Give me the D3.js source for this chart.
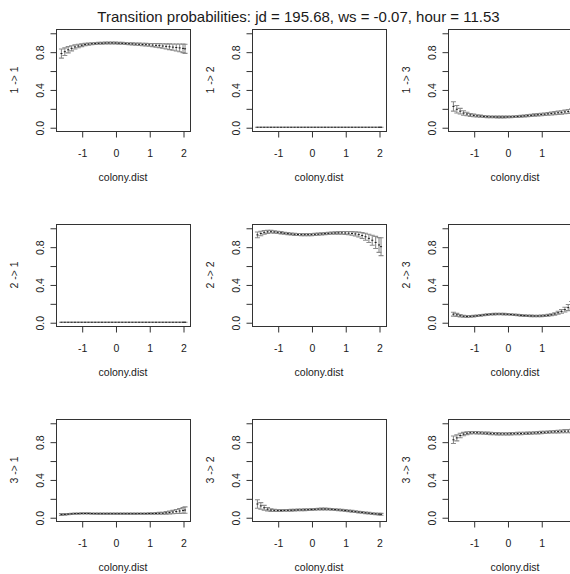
<!DOCTYPE html>
<html><head><meta charset="utf-8">
<script src="https://cdn.jsdelivr.net/npm/d3@7"></script>
<style>
body{margin:0;background:#fff}
svg{display:block}
text{font-family:"Liberation Sans",Arial,sans-serif;fill:#1a1a1a}
</style>
</head><body><svg id="chart" width="570" height="574"></svg>
<script>
const chartTitle = "Transition probabilities: jd = 195.68, ws = -0.07, hour = 11.53";
const xLabel = "colony.dist";
const xTicks = [-1, 0, 1, 2];
const yTicks = [0, 0.2, 0.4, 0.6, 0.8, 1.0];
const yTickLabels = [0, 0.4, 0.8];
const panelLabels = ["1 -> 1","1 -> 2","1 -> 3","2 -> 1","2 -> 2","2 -> 3","3 -> 1","3 -> 2","3 -> 3"];

const colonyDist = [-1.6,-1.5,-1.4,-1.3,-1.2,-1.1,-1.0,-0.9,-0.8,-0.7,
  -0.6,-0.5,-0.4,-0.3,-0.2,-0.1,0.0,0.1,0.2,0.3,
  0.4,0.5,0.6,0.7,0.8,0.9,1.0,1.1,1.2,1.3,
  1.4,1.5,1.6,1.7,1.8,1.9,2.0,2.06];

const p11 = [0.78,0.80,0.82,0.835,0.85,0.86,0.868,0.875,0.88,0.884,
  0.886,0.888,0.89,0.892,0.893,0.893,0.892,0.89,0.888,0.886,
  0.884,0.882,0.88,0.878,0.876,0.874,0.872,0.87,0.867,0.864,
  0.86,0.856,0.852,0.848,0.844,0.84,0.835,0.83];
const p11Err = [0.048,0.04,0.033,0.027,0.022,0.018,0.015,0.013,0.012,0.011,
  0.01,0.01,0.01,0.01,0.01,0.01,0.01,0.01,0.01,0.01,
  0.011,0.011,0.012,0.012,0.013,0.014,0.015,0.017,0.019,0.021,
  0.024,0.027,0.03,0.033,0.037,0.041,0.045,0.048];

const p12 = [0,0,0,0,0,0,0,0,0,0, 0,0,0,0,0,0,0,0,0,0, 0,0,0,0,0,0,0,0,0,0, 0,0,0,0,0,0,0,0];
const p12Err = [0,0,0,0,0,0,0,0,0,0, 0,0,0,0,0,0,0,0,0,0, 0,0,0,0,0,0,0,0,0,0, 0,0,0,0,0,0,0,0];

const p13 = [0.22,0.19,0.17,0.15,0.14,0.13,0.125,0.12,0.117,0.114,
  0.112,0.11,0.109,0.108,0.108,0.108,0.109,0.11,0.112,0.114,
  0.117,0.12,0.123,0.126,0.129,0.132,0.135,0.138,0.141,0.145,
  0.149,0.153,0.157,0.162,0.167,0.172,0.177,0.182];
const p13Err = [0.05,0.04,0.03,0.024,0.019,0.016,0.014,0.012,0.011,0.01,
  0.01,0.009,0.009,0.009,0.009,0.009,0.009,0.009,0.009,0.01,
  0.01,0.01,0.011,0.011,0.012,0.012,0.013,0.013,0.014,0.015,
  0.016,0.017,0.018,0.019,0.02,0.022,0.024,0.026];

const p21 = [0,0,0,0,0,0,0,0,0,0, 0,0,0,0,0,0,0,0,0,0, 0,0,0,0,0,0,0,0,0,0, 0,0,0,0,0,0,0,0];
const p21Err = [0,0,0,0,0,0,0,0,0,0, 0,0,0,0,0,0,0,0,0,0, 0,0,0,0,0,0,0,0,0,0, 0,0,0,0,0,0,0,0];

const p22 = [0.925,0.94,0.952,0.957,0.958,0.956,0.952,0.947,0.942,0.938,
  0.934,0.931,0.929,0.928,0.927,0.927,0.928,0.93,0.932,0.935,
  0.938,0.941,0.943,0.945,0.946,0.946,0.945,0.943,0.94,0.935,
  0.928,0.918,0.905,0.888,0.868,0.845,0.818,0.8];
const p22Err = [0.03,0.024,0.019,0.016,0.014,0.013,0.012,0.012,0.011,0.011,
  0.011,0.011,0.011,0.011,0.011,0.011,0.011,0.011,0.011,0.011,
  0.011,0.011,0.012,0.012,0.013,0.014,0.015,0.017,0.019,0.022,
  0.026,0.031,0.037,0.044,0.053,0.064,0.078,0.095];

const p23 = [0.085,0.078,0.068,0.063,0.061,0.062,0.064,0.068,0.072,0.077,
  0.081,0.084,0.086,0.087,0.087,0.086,0.084,0.082,0.079,0.076,
  0.073,0.07,0.068,0.067,0.066,0.066,0.067,0.069,0.073,0.079,
  0.088,0.1,0.115,0.133,0.155,0.18,0.21,0.23];
const p23Err = [0.02,0.016,0.013,0.011,0.01,0.009,0.009,0.008,0.008,0.008,
  0.008,0.008,0.008,0.008,0.008,0.008,0.008,0.008,0.008,0.008,
  0.008,0.008,0.008,0.008,0.008,0.008,0.009,0.009,0.01,0.011,
  0.013,0.016,0.02,0.025,0.032,0.04,0.05,0.058];

const p31 = [0.028,0.03,0.033,0.036,0.038,0.039,0.04,0.04,0.04,0.039,
  0.038,0.037,0.037,0.037,0.037,0.037,0.037,0.037,0.037,0.037,
  0.037,0.037,0.037,0.038,0.038,0.038,0.039,0.039,0.04,0.041,
  0.042,0.046,0.05,0.055,0.06,0.066,0.072,0.076];
const p31Err = [0.01,0.008,0.007,0.006,0.006,0.006,0.006,0.006,0.006,0.006,
  0.006,0.006,0.006,0.006,0.006,0.006,0.006,0.006,0.006,0.006,
  0.006,0.006,0.006,0.006,0.006,0.007,0.007,0.008,0.009,0.01,
  0.011,0.013,0.015,0.018,0.021,0.025,0.03,0.034];

const p32 = [0.14,0.12,0.1,0.085,0.076,0.072,0.071,0.071,0.072,0.073,
  0.074,0.076,0.077,0.078,0.079,0.08,0.082,0.084,0.086,0.087,
  0.087,0.086,0.084,0.081,0.078,0.075,0.071,0.067,0.063,0.059,
  0.055,0.051,0.047,0.043,0.039,0.036,0.033,0.031];
const p32Err = [0.045,0.035,0.025,0.018,0.014,0.011,0.01,0.009,0.009,0.009,
  0.009,0.009,0.009,0.009,0.009,0.009,0.009,0.009,0.009,0.009,
  0.009,0.009,0.009,0.009,0.009,0.009,0.009,0.009,0.009,0.009,
  0.009,0.009,0.009,0.009,0.009,0.009,0.009,0.01];

const p33 = [0.82,0.84,0.865,0.88,0.89,0.895,0.896,0.895,0.893,0.891,
  0.889,0.887,0.885,0.884,0.883,0.883,0.883,0.884,0.885,0.886,
  0.887,0.888,0.889,0.891,0.893,0.895,0.897,0.899,0.901,0.903,
  0.905,0.907,0.909,0.911,0.912,0.913,0.913,0.913];
const p33Err = [0.04,0.032,0.024,0.018,0.015,0.013,0.012,0.012,0.012,0.012,
  0.012,0.012,0.012,0.012,0.012,0.012,0.012,0.012,0.012,0.012,
  0.012,0.012,0.012,0.012,0.012,0.012,0.012,0.012,0.012,0.012,
  0.013,0.014,0.015,0.016,0.017,0.018,0.02,0.022];

const panelMeans = [p11,p12,p13,p21,p22,p23,p31,p32,p33];
const panelErrs = [p11Err,p12Err,p13Err,p21Err,p22Err,p23Err,p31Err,p32Err,p33Err];

// ---- layout ----
const svg = d3.select("#chart");
const firstLeft = 56, colStep = 196;
const firstTop = 28.5, rowStep = 195;
const boxW = 134, boxH = 102;
const capHalf = 2.5;

const x = d3.scaleLinear().domain([-1.761, 2.207]).range([0, boxW]);
const y = d3.scaleLinear().domain([-0.04, 1.04]).range([boxH, 0]);

svg.append("text")
  .attr("x", 298.5).attr("y", 22)
  .attr("text-anchor", "middle")
  .attr("font-size", 15)
  .text(chartTitle);

panelLabels.forEach((label, i) => {
  const col = i % 3, row = Math.floor(i / 3);
  const left = Math.round(firstLeft + col * colStep);
  const top = Math.round(firstTop + row * rowStep);
  const g = svg.append("g").attr("transform", `translate(${left},${top})`);
  const means = panelMeans[i], errs = panelErrs[i];
  const pts = colonyDist.map((d, j) => ({ x: d, m: means[j], e: errs[j] }));

  // error bars
  g.append("g").selectAll("path").data(pts).join("path")
    .attr("d", d => {
      const px = x(d.x), lo = y(d.m - d.e), hi = y(d.m + d.e);
      return `M${px},${lo}V${hi}M${px - capHalf},${lo}h${2 * capHalf}M${px - capHalf},${hi}h${2 * capHalf}`;
    })
    .attr("fill", "none").attr("stroke", "#8c8c8c").attr("stroke-width", 1.1);

  // mean markers
  g.append("g").selectAll("rect").data(pts).join("rect")
    .attr("x", d => x(d.x) - 1).attr("y", d => y(d.m) - 0.5)
    .attr("width", 2).attr("height", 1)
    .attr("fill", "#1a1a1a");

  // box
  g.append("rect").attr("x", 0.5).attr("y", 0.5)
    .attr("width", boxW).attr("height", boxH)
    .attr("fill", "none").attr("stroke", "#333").attr("stroke-width", 1);

  // x axis
  const gx = g.append("g").attr("transform", `translate(0.5,${boxH + 0.5})`)
    .call(d3.axisBottom(x).tickValues(xTicks).tickSize(6).tickFormat(d => String(d)));
  gx.select(".domain").remove();
  gx.attr("font-family", null).attr("font-size", 10.5).attr("color", "#333");
  gx.selectAll("text").attr("y", 25).attr("dy", 0).attr("fill", "#1a1a1a");

  // y axis
  const gy = g.append("g").attr("transform", `translate(0.5,0.5)`)
    .call(d3.axisLeft(y).tickValues(yTicks).tickSize(6)
      .tickFormat(d => yTickLabels.includes(d) ? d.toFixed(1) : ""));
  gy.select(".domain").remove();
  gy.attr("font-family", null).attr("font-size", 10.5).attr("color", "#333");
  gy.selectAll("text")
    .attr("transform", "rotate(-90)")
    .attr("x", 0).attr("y", -12.7).attr("dy", 0)
    .attr("text-anchor", "middle").attr("fill", "#1a1a1a");

  // axis titles
  g.append("text")
    .attr("x", boxW / 2).attr("y", boxH + 50)
    .attr("text-anchor", "middle").attr("font-size", 10.5)
    .text(xLabel);
  g.append("text")
    .attr("transform", `translate(-37.7,${boxH / 2}) rotate(-90)`)
    .attr("text-anchor", "middle").attr("font-size", 10.5)
    .text(label);
});
</script>
</body></html>
